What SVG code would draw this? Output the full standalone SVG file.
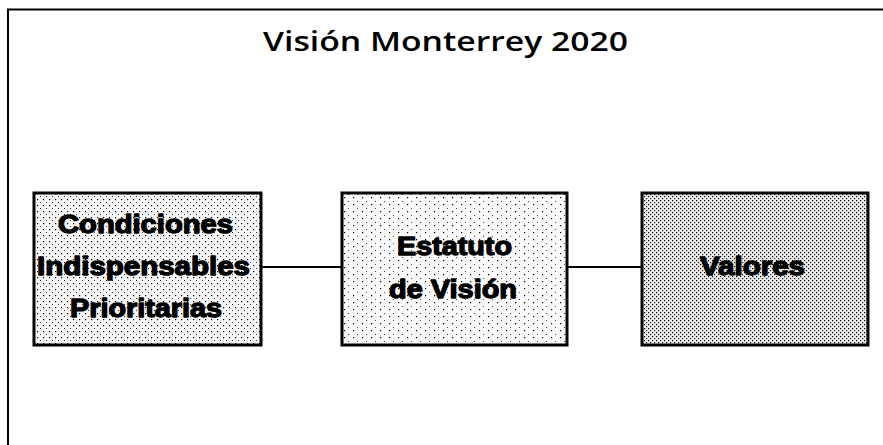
<svg xmlns="http://www.w3.org/2000/svg" width="883" height="445" viewBox="0 0 883 445">
  <style>
    .frame { stroke: #000; stroke-width: 2; fill: none; }
    .box { stroke: #000; stroke-width: 3; }
    .conn { stroke: #000; stroke-width: 2.2; fill: none; }
    .title { font-family: "Open Sans", "Noto Sans", sans-serif; font-weight: 600; font-size: 27px; fill: #000; text-anchor: middle; }
    .lbl { font-family: "Liberation Sans", Arial, sans-serif; font-weight: bold; font-size: 26px; fill: #000; stroke: #000; stroke-width: 1.3; stroke-linejoin: round; text-anchor: middle; }
  </style>
  <defs>
    <pattern id="pLight" width="9" height="7" patternUnits="userSpaceOnUse">
      <rect width="9" height="7" fill="#fbfbfb"/>
      <rect x="2" y="1" width="1.2" height="1.2" fill="#000"/>
      <rect x="6" y="5" width="1" height="1" fill="#444"/>
    </pattern>
    <pattern id="pMed" width="6" height="6" patternUnits="userSpaceOnUse">
      <rect width="6" height="6" fill="#f6f6f6"/>
      <rect x="1" y="1" width="1.2" height="1.2" fill="#000"/>
      <rect x="4" y="4" width="1" height="1" fill="#333"/>
    </pattern>
    <pattern id="pDense" width="4" height="4" patternUnits="userSpaceOnUse">
      <rect width="4" height="4" fill="#eaeaea"/>
      <rect x="0" y="0" width="1.2" height="1.2" fill="#000"/>
      <rect x="2" y="2" width="1.2" height="1.2" fill="#222"/>
    </pattern>
  </defs>
  <rect width="883" height="445" fill="#fff"/>
  <g id="frame">
    <polyline class="frame" points="8,445 8,9.5 883,9.5"/>
  </g>
  <g id="title">
    <text class="title" x="445.5" y="51" textLength="365" lengthAdjust="spacingAndGlyphs">Visión Monterrey 2020</text>
  </g>
  <g id="connectors">
    <line class="conn" x1="261" y1="267" x2="342" y2="267"/>
    <line class="conn" x1="567" y1="267" x2="642" y2="267"/>
  </g>
  <g id="node-condiciones">
    <rect class="box" x="34" y="193" width="227" height="152" fill="url(#pMed)"/>
    <text class="lbl" x="145.5" y="233" textLength="175" lengthAdjust="spacingAndGlyphs">Condiciones</text>
    <text class="lbl" x="143.5" y="275" textLength="213" lengthAdjust="spacingAndGlyphs">Indispensables</text>
    <text class="lbl" x="146" y="317" textLength="152" lengthAdjust="spacingAndGlyphs">Prioritarias</text>
  </g>
  <g id="node-estatuto">
    <rect class="box" x="342" y="193" width="225" height="152" fill="url(#pLight)"/>
    <text class="lbl" x="454.5" y="255" textLength="115" lengthAdjust="spacingAndGlyphs">Estatuto</text>
    <text class="lbl" x="453" y="298" textLength="128" lengthAdjust="spacingAndGlyphs">de Visión</text>
  </g>
  <g id="node-valores">
    <rect class="box" x="642" y="193" width="226" height="152" fill="url(#pDense)"/>
    <text class="lbl" x="752.5" y="275" textLength="105" lengthAdjust="spacingAndGlyphs">Valores</text>
  </g>
</svg>
